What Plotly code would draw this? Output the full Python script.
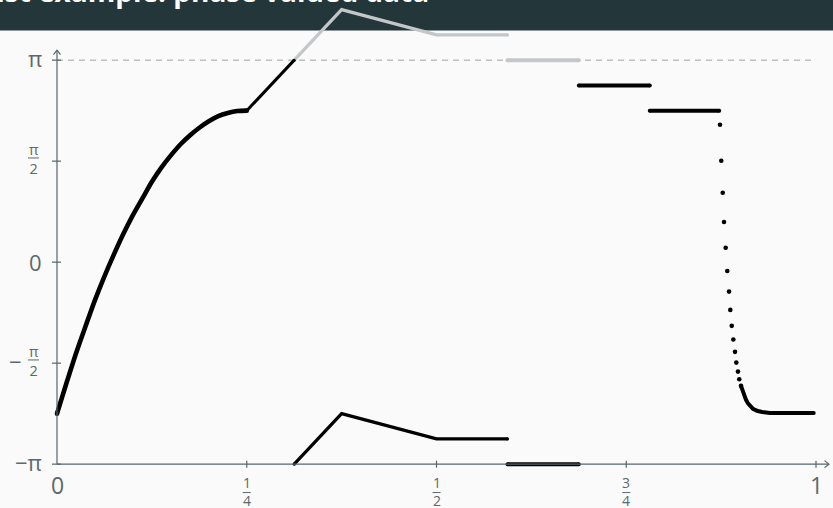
import math
import plotly.graph_objects as go

PI = math.pi

# ---------------- data ----------------
# dense rising curve (markers merge into a thick line)
rise_x = [0.0, 0.0125, 0.025, 0.0375, 0.05, 0.0625, 0.075, 0.0875, 0.1, 0.1125,
          0.125, 0.1375, 0.15, 0.1625, 0.175, 0.1875, 0.2, 0.2125, 0.225, 0.2375, 0.25]
rise_y = [-2.356, -1.88, -1.42, -1.00, -0.59, -0.22, 0.12, 0.44, 0.73, 0.99,
          1.25, 1.47, 1.66, 1.83, 1.97, 2.09, 2.19, 2.27, 2.32, 2.35, 2.356]

# black ramp up to pi
ramp_x = [0.25, 0.3125]
ramp_y = [2.356, 3.1416]

# unwrapped part above pi (grey)
over_x = [0.3125, 0.375, 0.5, 0.5935]
over_y = [3.1416, 3.927, 3.534, 3.534]
over_flat_x = [0.5935, 0.6875]
over_flat_y = [3.1416, 3.1416]

# wrapped part (black)
wrap_x = [0.3125, 0.375, 0.5, 0.5935]
wrap_y = [-3.1416, -2.356, -2.749, -2.749]
wrap_flat_x = [0.5935, 0.6875]
wrap_flat_y = [-3.1416, -3.1416]

# steps
step1_x = [0.6875, 0.781]
step1_y = [2.749, 2.749]
step2_x = [0.781, 0.8725]
step2_y = [2.356, 2.356]

# discrete dots of the drop
drop_x = [0.8735, 0.8752, 0.8771, 0.8788, 0.8810, 0.8831, 0.8854, 0.8871,
          0.8890, 0.8911, 0.8933, 0.8950, 0.8972, 0.8989, 0.9012]
drop_y = [2.137, 1.577, 1.080, 0.625, 0.225, -0.137, -0.458, -0.743,
          -0.991, -1.204, -1.395, -1.562, -1.702, -1.820, -1.924]

# dense tail
tail_x = [0.9012, 0.9034, 0.9055, 0.9078, 0.9104, 0.9130, 0.9170, 0.9223,
          0.9289, 0.9394, 0.997]
tail_y = [-1.924, -2.012, -2.079, -2.141, -2.196, -2.239, -2.281, -2.312,
          -2.331, -2.345, -2.345]

xtick_vals = [0, 0.25, 0.5, 0.75, 1]
xtick_num = ["0", "1", "1", "3", "1"]
xtick_den = [None, "4", "2", "4", None]

ytick_vals = [-PI, -PI / 2, 0, PI / 2, PI]
ytick_sign = ["−", "−", "", "", ""]
ytick_num = ["π", "π", "0", "π", "π"]
ytick_den = [None, "2", None, "2", None]

TITLE = "Last example: phase valued data"

# ---------------- geometry / style ----------------
W, H = 833, 508
X0PX, XPX = 57.0, 759.0        # pixel of x=0, pixels per unit x
Y0PX, YPX = 262.15, 64.3       # pixel of y=0, pixels per unit y
DX, DY = 1 / XPX, 1 / YPX


def px2x(px):
    return (px - X0PX) / XPX


def py2y(py):
    return (Y0PX - py) / YPX


BLACK = "#000000"
GREY = "#c3c7ca"
AXIS = "#56666a"
LABEL = "#5b696c"
BG = "#fafafa"
BAR = "#23373b"
FONT = "Open Sans"

fig = go.Figure()


def seg(x, y, color, width, ends=True, shape="linear"):
    fig.add_trace(go.Scatter(
        x=x, y=y, mode="lines",
        line=dict(color=color, width=width, shape=shape, smoothing=0.8),
        hoverinfo="skip", showlegend=False, cliponaxis=False))
    if ends:
        fig.add_trace(go.Scatter(
            x=[x[0], x[-1]], y=[y[0], y[-1]], mode="markers",
            marker=dict(color=color, size=width, line=dict(width=0)),
            hoverinfo="skip", showlegend=False, cliponaxis=False))


seg(over_x, over_y, GREY, 3.2)
seg(over_flat_x, over_flat_y, GREY, 4)
seg(rise_x, rise_y, BLACK, 4.6, shape="spline")
seg(ramp_x, ramp_y, BLACK, 3)
seg(wrap_x, wrap_y, BLACK, 3.2)
seg(wrap_flat_x, wrap_flat_y, BLACK, 4)
seg(step1_x, step1_y, BLACK, 4)
seg(step2_x, step2_y, BLACK, 4)
seg(tail_x, tail_y, BLACK, 4)
fig.add_trace(go.Scatter(
    x=drop_x, y=drop_y, mode="markers",
    marker=dict(color=BLACK, size=4.6, line=dict(width=0)),
    hoverinfo="skip", showlegend=False, cliponaxis=False))

shapes = []
# title bar
shapes.append(dict(type="rect", xref="paper", yref="paper", x0=0, x1=1,
                   y0=1 - 30.5 / H, y1=1, fillcolor=BAR, line=dict(width=0),
                   layer="below"))
# dashed pi line
shapes.append(dict(type="line", xref="x", yref="y", x0=0, x1=1, y0=PI, y1=PI,
                   line=dict(color="#a0a0a0", width=1, dash="6px,5px"),
                   layer="below"))
# axes
ytip = PI + 10 * DY
xtip = 1 + 13 * DX
shapes.append(dict(type="line", xref="x", yref="y", x0=0, x1=0, y0=-PI, y1=ytip,
                   line=dict(color=AXIS, width=1.2)))
shapes.append(dict(type="line", xref="x", yref="y", x0=0, x1=xtip, y0=-PI, y1=-PI,
                   line=dict(color=AXIS, width=1.2)))
# arrow heads
shapes.append(dict(type="path", xref="x", yref="y",
                   path=f"M {-3.5*DX},{ytip-4.5*DY} L 0,{ytip} L {3.5*DX},{ytip-4.5*DY}",
                   line=dict(color=AXIS, width=1.2)))
shapes.append(dict(type="path", xref="x", yref="y",
                   path=f"M {xtip-4.5*DX},{-PI+3.5*DY} L {xtip},{-PI} L {xtip-4.5*DX},{-PI-3.5*DY}",
                   line=dict(color=AXIS, width=1.2)))
# ticks
for v in ytick_vals:
    shapes.append(dict(type="line", xref="x", yref="y", x0=-5 * DX, x1=4 * DX,
                       y0=v, y1=v, line=dict(color=AXIS, width=1.2)))
for v in xtick_vals[1:]:
    shapes.append(dict(type="line", xref="x", yref="y", x0=v, x1=v,
                       y0=-PI - 3.5 * DY, y1=-PI + 3.5 * DY,
                       line=dict(color=AXIS, width=1.2)))

annotations = []
# title (its left part runs off the slide, as in the reference)
annotations.append(dict(text="<b>" + TITLE + "</b>", xref="paper", yref="paper",
                        x=431 / W, y=1, xanchor="right", yanchor="middle",
                        yshift=9, showarrow=False,
                        font=dict(family=FONT, size=28, color="#ffffff")))

# y tick labels
for v, s, n, d in zip(ytick_vals, ytick_sign, ytick_num, ytick_den):
    if d is None:
        txt = s + n
        sh = 2 if "π" in n else 0
        annotations.append(dict(text=txt, x=px2x(44), y=v, xref="x", yref="y",
                                xanchor="right", yanchor="middle", yshift=sh,
                                showarrow=False,
                                font=dict(family=FONT, size=22, color=LABEL)))
    else:
        cx = px2x(33.5)
        if s:
            annotations.append(dict(text=s, x=px2x(15.5), y=v, xref="x", yref="y",
                                    xanchor="center", yanchor="middle", yshift=2.5,
                                    showarrow=False,
                                    font=dict(family=FONT, size=22, color=LABEL)))
        annotations.append(dict(text=n + "<br>" + d, x=cx, y=v, xref="x", yref="y",
                                xanchor="center", yanchor="middle", yshift=2.5,
                                showarrow=False, borderpad=0,
                                font=dict(family=FONT, size=14.5, color=LABEL)))
        shapes.append(dict(type="line", xref="x", yref="y",
                           x0=cx - 5.5 * DX, x1=cx + 5.5 * DX,
                           y0=v + 3.2 * DY, y1=v + 3.2 * DY,
                           line=dict(color=LABEL, width=1)))

# x tick labels
for v, n, d in zip(xtick_vals, xtick_num, xtick_den):
    if d is None:
        annotations.append(dict(text=n, x=v, y=-PI, xref="x", yref="y",
                                xanchor="center", yanchor="middle", yshift=-20.5,
                                showarrow=False,
                                font=dict(family=FONT, size=23, color=LABEL)))
    else:
        annotations.append(dict(text=n + "<br>" + d, x=v, y=-PI, xref="x", yref="y",
                                xanchor="center", yanchor="middle", yshift=-27.5,
                                showarrow=False, borderpad=0,
                                font=dict(family=FONT, size=14, color=LABEL)))
        shapes.append(dict(type="line", xref="x", yref="y",
                           x0=v - 4 * DX, x1=v + 4 * DX,
                           y0=-PI - 28.4 * DY, y1=-PI - 28.4 * DY,
                           line=dict(color=LABEL, width=1)))

fig.update_layout(
    width=W, height=H, autosize=False,
    margin=dict(l=0, r=0, t=0, b=0),
    paper_bgcolor=BG, plot_bgcolor=BG,
    xaxis=dict(range=[px2x(0), px2x(W)], visible=False, fixedrange=True),
    yaxis=dict(range=[py2y(H), py2y(0)], visible=False, fixedrange=True),
    shapes=shapes, annotations=annotations, showlegend=False,
)

fig.write_html("out.html")
